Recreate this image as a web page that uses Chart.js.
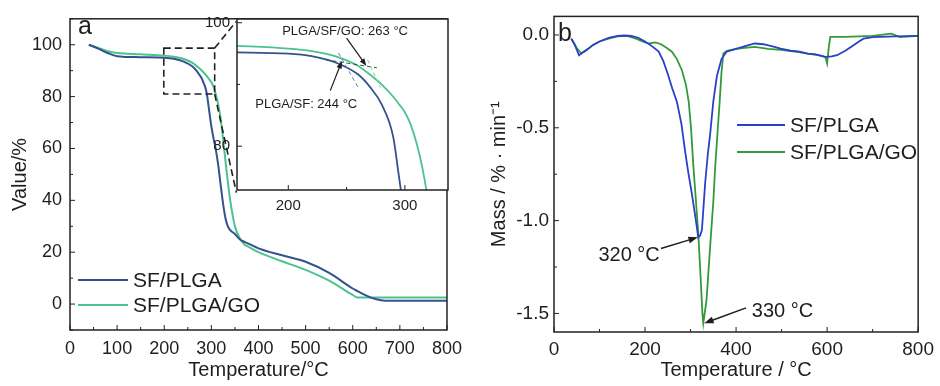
<!DOCTYPE html>
<html>
<head>
<meta charset="utf-8">
<script src="https://cdn.jsdelivr.net/npm/chart.js@4.4.1/dist/chart.umd.min.js"></script>
<style>
  body { margin: 0; background: #fff; }
  #wrap { position: relative; width: 940px; height: 386px; }
  canvas { position: absolute; }
  #chartA { left: 0; top: 0; }
  #inset { left: 195px; top: 3px; }
  #chartB { left: 470px; top: 0; }
</style>
</head>
<body>
<div id="wrap">
  <canvas id="chartA" width="470" height="386"></canvas>
  <canvas id="inset" width="260" height="217"></canvas>
  <canvas id="chartB" width="470" height="386"></canvas>
</div>
<script>
// panel a: TGA, residual mass (%) vs temperature (°C)
const tempA = [40, 60, 80, 100, 150, 200, 220, 240, 260, 270, 280, 290, 295, 300, 305, 310, 315, 320, 325, 330,
  335, 340, 350, 360, 370, 380, 400, 450, 500, 550, 600, 610, 620, 640, 660, 680, 700, 750, 800];
const massSfPlga = [100, 98.5, 96.8, 95.6, 95.2, 95.0, 94.6, 93.6, 91.6, 89.6, 86.8, 81.5, 75, 68.5, 63.5, 59, 53, 45.5, 38.5, 33,
  30, 28.5, 27, 25, 24, 23.2, 21.5, 18.8, 16.3, 12, 6, 5, 4, 2.4, 1.5, 1.3, 1.3, 1.3, 1.3];
const massSfPlgaGo = [100, 98.8, 97.5, 96.8, 96.3, 95.8, 95.4, 94.6, 93.0, 91.6, 90.0, 88.0, 86.8, 85.5, 83.5, 80.5, 76.5, 71, 63.5, 55,
  47, 40, 30, 25.5, 23, 22, 20, 16.5, 13.2, 9, 3.5, 2.5, 2.5, 2.5, 2.5, 2.5, 2.5, 2.5, 2.5];

const xTicksA = [0, 100, 200, 300, 400, 500, 600, 700, 800];
const yTicksA = [0, 20, 40, 60, 80, 100];
const xTicksInset = [200, 300];
const yTicksInset = [80, 100];

// panel b: DTG, mass loss rate (%/min)
const tempBlue = [38, 45, 55, 65, 75, 85, 100, 120, 140, 155, 170, 185, 200, 215, 230, 240, 250, 260, 270, 280,
  288, 295, 303, 310, 317, 321, 325, 332, 338, 343, 350, 358, 368, 379, 400, 420, 441, 460, 480, 498,
  520, 540, 557, 575, 596, 610, 622, 640, 658, 670, 680, 700, 750, 800];
const rateSfPlga = [-0.02, -0.05, -0.11, -0.09, -0.075, -0.055, -0.035, -0.015, -0.005, -0.003, -0.005, -0.015, -0.035, -0.06, -0.09, -0.14, -0.21, -0.29, -0.36, -0.48,
  -0.626, -0.74, -0.857, -0.97, -1.09, -1.08, -1.05, -0.80, -0.64, -0.535, -0.358, -0.22, -0.13, -0.09, -0.075, -0.06, -0.046, -0.05, -0.062, -0.073,
  -0.085, -0.09, -0.1, -0.105, -0.118, -0.115, -0.109, -0.085, -0.055, -0.035, -0.02, -0.012, -0.008, -0.005];
const tempGreen = [38, 50, 60, 70, 85, 100, 120, 140, 160, 180, 200, 209, 223, 235, 248, 259, 270, 281, 290, 296,
  301, 306, 312, 317, 322, 326, 328, 331, 335, 340, 345, 350, 354, 360, 364, 368, 372, 380, 400, 420,
  441, 470, 498, 530, 557, 580, 596, 600, 604, 607, 640, 700, 741, 760, 800];
const rateSfPlgaGo = [-0.02, -0.07, -0.1, -0.085, -0.055, -0.035, -0.02, -0.008, -0.005, -0.02, -0.04, -0.046, -0.04, -0.05, -0.07, -0.09, -0.13, -0.19, -0.27, -0.36,
  -0.5, -0.7, -0.9, -1.07, -1.3, -1.5, -1.553, -1.5, -1.43, -1.25, -1.07, -0.9, -0.715, -0.5, -0.358, -0.2, -0.1, -0.085, -0.075, -0.07,
  -0.064, -0.075, -0.08, -0.09, -0.1, -0.108, -0.118, -0.153, -0.06, -0.01, -0.01, -0.005, 0.007, -0.012, -0.005];

const xTicksB = [0, 200, 400, 600, 800];
const yTicksB = [0, -0.5, -1.0, -1.5];

const FONT = "'Liberation Sans', Arial, sans-serif";
const INK = "#1e1e1e";
const blueA = "#34528f";
const greenA = "#4cc28e";
const blueB = "#2b40c8";
const greenB = "#339a3a";

function pts(xs, ys) {
    return xs.map((x, i) => ({ x: x, y: ys[i] }));
}

function fixedTicks(values) {
    return function (scale) {
        scale.ticks = values.map(v => ({ value: v }));
    };
}

// box around the plot area plus inward tick marks on bottom and left
function framePlugin(xMinor, yMinor) {
    return {
        id: "frame",
        afterDatasetsDraw(chart) {
            let ctx = chart.ctx;
            let a = chart.chartArea;
            let x = chart.scales.x, y = chart.scales.y;
            ctx.save();
            ctx.strokeStyle = "#222";
            ctx.lineWidth = 1.5;
            ctx.strokeRect(a.left, a.top, a.right - a.left, a.bottom - a.top);
            ctx.lineWidth = 1;
            let majorX = x.ticks.map(t => t.value);
            for (let v = Math.ceil(x.min / xMinor) * xMinor; v <= x.max + 1e-9; v += xMinor) {
                let len = majorX.some(m => Math.abs(m - v) < 1e-6) ? 5 : 3;
                let px = x.getPixelForValue(v);
                ctx.beginPath();
                ctx.moveTo(px, a.bottom);
                ctx.lineTo(px, a.bottom - len);
                ctx.stroke();
            }
            let majorY = y.ticks.map(t => t.value);
            for (let v = Math.ceil(y.min / yMinor) * yMinor; v <= y.max + 1e-9; v += yMinor) {
                let len = majorY.some(m => Math.abs(m - v) < 1e-6) ? 5 : 3;
                let py = y.getPixelForValue(v);
                ctx.beginPath();
                ctx.moveTo(a.left, py);
                ctx.lineTo(a.left + len, py);
                ctx.stroke();
            }
            ctx.restore();
        }
    };
}

function legendPlugin(x0, y0, gap, lineLen) {
    return {
        id: "sideLegend",
        afterDraw(chart) {
            let ctx = chart.ctx;
            chart.data.datasets.forEach((ds, i) => {
                let y = y0 + i * gap;
                ctx.save();
                ctx.strokeStyle = ds.borderColor;
                ctx.lineWidth = ds.borderWidth;
                ctx.beginPath();
                ctx.moveTo(x0, y);
                ctx.lineTo(x0 + lineLen, y);
                ctx.stroke();
                ctx.fillStyle = INK;
                ctx.font = "21px " + FONT;
                ctx.textBaseline = "middle";
                ctx.fillText(ds.label, x0 + lineLen + 5, y + 1);
                ctx.restore();
            });
        }
    };
}

function panelLabel(text, x, y) {
    return {
        id: "panelLabel",
        afterDraw(chart) {
            let ctx = chart.ctx;
            ctx.save();
            ctx.fillStyle = INK;
            ctx.font = "25px " + FONT;
            ctx.fillText(text, x, y);
            ctx.restore();
        }
    };
}

function arrow(ctx, x1, y1, x2, y2, head) {
    let ang = Math.atan2(y2 - y1, x2 - x1);
    ctx.beginPath();
    ctx.moveTo(x1, y1);
    ctx.lineTo(x2 - Math.cos(ang) * head * 0.8, y2 - Math.sin(ang) * head * 0.8);
    ctx.stroke();
    ctx.beginPath();
    ctx.moveTo(x2, y2);
    ctx.lineTo(x2 - head * Math.cos(ang - 0.35), y2 - head * Math.sin(ang - 0.35));
    ctx.lineTo(x2 - head * Math.cos(ang + 0.35), y2 - head * Math.sin(ang + 0.35));
    ctx.closePath();
    ctx.fill();
}

// dashed zoom window on panel a and its connector lines towards the inset
const zoomBox = { t0: 199, t1: 307, v0: 81, v1: 98.7 };
const zoomBoxPlugin = {
    id: "zoomBox",
    afterDatasetsDraw(chart) {
        let ctx = chart.ctx;
        let x = chart.scales.x, y = chart.scales.y;
        let l = x.getPixelForValue(zoomBox.t0), r = x.getPixelForValue(zoomBox.t1);
        let t = y.getPixelForValue(zoomBox.v1), b = y.getPixelForValue(zoomBox.v0);
        ctx.save();
        ctx.strokeStyle = "#222";
        ctx.lineWidth = 1.6;
        ctx.setLineDash([7, 4]);
        ctx.strokeRect(l, t, r - l, b - t);
        ctx.beginPath();
        ctx.moveTo(r, t);
        ctx.lineTo(x.getPixelForValue(353), y.getPixelForValue(109));
        ctx.moveTo(r, b);
        ctx.lineTo(x.getPixelForValue(353), y.getPixelForValue(43));
        ctx.stroke();
        ctx.restore();
    }
};

const whiteBg = {
    id: "whiteBg",
    beforeDraw(chart) {
        let a = chart.chartArea;
        chart.ctx.save();
        chart.ctx.fillStyle = "#fff";
        chart.ctx.fillRect(a.left, a.top, a.right - a.left, a.bottom - a.top);
        chart.ctx.restore();
    }
};

const insetNotes = {
    id: "insetNotes",
    afterDatasetsDraw(chart) {
        let ctx = chart.ctx;
        let x = chart.scales.x, y = chart.scales.y;
        let X = v => x.getPixelForValue(v), Y = v => y.getPixelForValue(v);
        ctx.save();
        ctx.lineWidth = 1;
        ctx.setLineDash([4, 3]);
        ctx.strokeStyle = "#2d5a3a";
        ctx.beginPath();
        ctx.moveTo(X(232), Y(94.0));
        ctx.lineTo(X(276), Y(92.7));
        ctx.stroke();
        ctx.strokeStyle = "#6fd39f";
        ctx.beginPath();
        ctx.moveTo(X(268), Y(94.0));
        ctx.lineTo(X(279), Y(89.5));
        ctx.stroke();
        ctx.strokeStyle = "#5b7fc4";
        ctx.beginPath();
        ctx.moveTo(X(243), Y(95.1));
        ctx.lineTo(X(260), Y(89.5));
        ctx.stroke();
        ctx.setLineDash([]);
        ctx.strokeStyle = INK;
        ctx.fillStyle = INK;
        ctx.lineWidth = 1.2;
        arrow(ctx, X(250), Y(97.5), X(267), Y(93.0), 8);
        arrow(ctx, X(236), Y(89.0), X(246), Y(93.8), 8);
        ctx.font = "13px " + FONT;
        ctx.textAlign = "center";
        ctx.textBaseline = "middle";
        ctx.fillText("PLGA/SF/GO: 263 °C", X(248.7), Y(98.6));
        ctx.fillText("PLGA/SF: 244 °C", X(215.4), Y(86.7));
        ctx.restore();
    }
};

const peakNotes = {
    id: "peakNotes",
    afterDatasetsDraw(chart) {
        let ctx = chart.ctx;
        let x = chart.scales.x, y = chart.scales.y;
        let X = v => x.getPixelForValue(v), Y = v => y.getPixelForValue(v);
        ctx.save();
        ctx.strokeStyle = INK;
        ctx.fillStyle = INK;
        ctx.lineWidth = 1.5;
        arrow(ctx, X(235), Y(-1.15), X(316), Y(-1.09), 10);
        arrow(ctx, X(422), Y(-1.47), X(330), Y(-1.553), 10);
        ctx.font = "20px " + FONT;
        ctx.textAlign = "center";
        ctx.textBaseline = "middle";
        ctx.fillText("320 °C", X(165), Y(-1.19));
        ctx.fillText("330 °C", X(502), Y(-1.487));
        ctx.restore();
    }
};

function axis(opts) {
    return {
        type: "linear",
        min: opts.min,
        max: opts.max,
        afterBuildTicks: fixedTicks(opts.ticks),
        afterFit: opts.fit,
        grid: { display: false, drawTicks: false },
        border: { display: false },
        ticks: {
            font: { family: FONT, size: opts.size },
            color: INK,
            padding: opts.pad,
            callback: opts.format || (v => v)
        },
        title: opts.title ? {
            display: true,
            text: opts.title,
            font: { family: FONT, size: 20 },
            color: INK,
            padding: opts.titlePad
        } : { display: false }
    };
}

function baseOptions(padding, scales) {
    return {
        responsive: false,
        animation: false,
        devicePixelRatio: 1,
        layout: { padding: padding },
        elements: { point: { radius: 0 } },
        plugins: { legend: { display: false }, tooltip: { enabled: false } },
        scales: scales
    };
}

new Chart(document.getElementById("chartA"), {
    type: "line",
    data: {
        datasets: [
            { label: "SF/PLGA", data: pts(tempA, massSfPlga), borderColor: blueA, borderWidth: 2, cubicInterpolationMode: "monotone" },
            { label: "SF/PLGA/GO", data: pts(tempA, massSfPlgaGo), borderColor: greenA, borderWidth: 2, cubicInterpolationMode: "monotone" }
        ]
    },
    options: baseOptions({ top: 13, right: 22, left: 0, bottom: 0 }, {
        x: axis({ min: 0, max: 800, ticks: xTicksA, size: 18, pad: 8, fit: s => { s.height = 56; },
            title: "Temperature/°C", titlePad: { top: 0, bottom: 4 } }),
        y: axis({ min: -10, max: 110, ticks: yTicksA, size: 18, pad: 8, fit: s => { s.width = 70; },
            title: "Value/%", titlePad: { top: 8, bottom: 0 } })
    }),
    plugins: [framePlugin(50, 10), zoomBoxPlugin, legendPlugin(78, 280, 25, 50), panelLabel("a", 78, 34)]
});

new Chart(document.getElementById("inset"), {
    type: "line",
    data: {
        datasets: [
            { label: "SF/PLGA", data: pts(tempA, massSfPlga), borderColor: blueA, borderWidth: 1.8, cubicInterpolationMode: "monotone" },
            { label: "SF/PLGA/GO", data: pts(tempA, massSfPlgaGo), borderColor: greenA, borderWidth: 1.8, cubicInterpolationMode: "monotone" }
        ]
    },
    options: baseOptions({ top: 12, right: 7, left: 0, bottom: 0 }, {
        x: axis({ min: 156, max: 337, ticks: xTicksInset, size: 15, pad: 7, fit: s => { s.height = 30; } }),
        y: axis({ min: 72.9, max: 100.6, ticks: yTicksInset, size: 15, pad: 7, fit: s => { s.width = 42; } })
    }),
    plugins: [whiteBg, framePlugin(50, 10), insetNotes]
});

new Chart(document.getElementById("chartB"), {
    type: "line",
    data: {
        datasets: [
            { label: "SF/PLGA", data: pts(tempBlue, rateSfPlga), borderColor: blueB, borderWidth: 1.8 },
            { label: "SF/PLGA/GO", data: pts(tempGreen, rateSfPlgaGo), borderColor: greenB, borderWidth: 1.8 }
        ]
    },
    options: baseOptions({ top: 15, right: 18, left: 0, bottom: 0 }, {
        x: axis({ min: 0, max: 800, ticks: xTicksB, size: 19, pad: 6, fit: s => { s.height = 54; },
            title: "Temperature / °C", titlePad: { top: 0, bottom: 4 } }),
        y: axis({ min: -1.6, max: 0.1, ticks: yTicksB, size: 19, pad: 5, fit: s => { s.width = 84; },
            title: "Mass / % · min⁻¹", titlePad: { top: 17, bottom: 0 }, format: v => v.toFixed(1) })
    }),
    plugins: [framePlugin(100, 0.25), legendPlugin(267, 125, 27, 48), peakNotes, panelLabel("b", 88, 41)]
});
</script>
</body>
</html>
